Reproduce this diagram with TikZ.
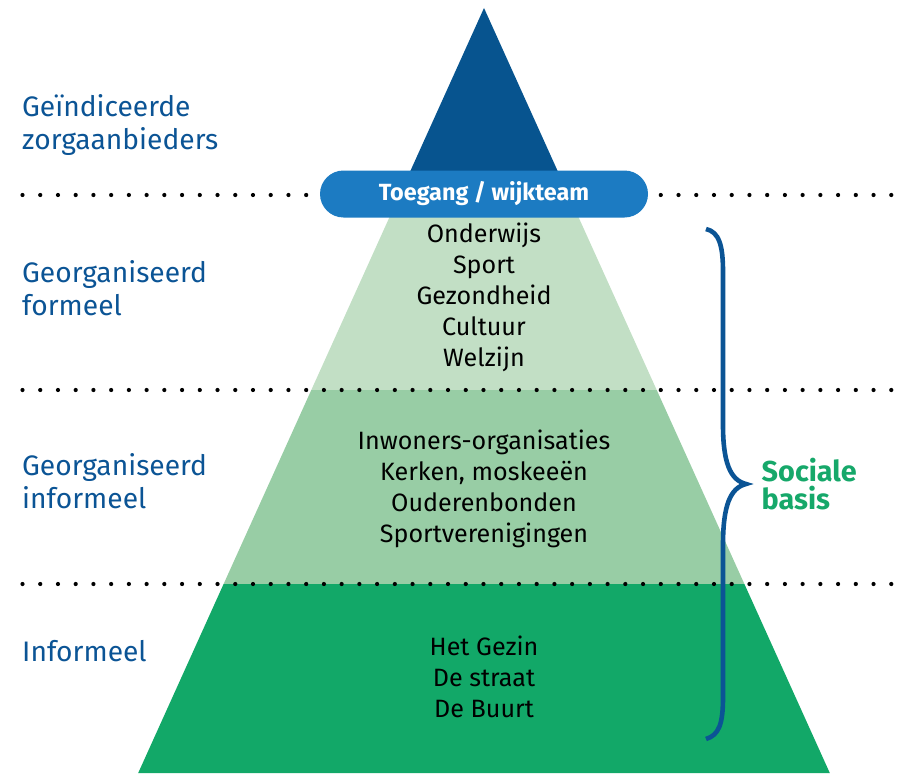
\documentclass[tikz,border=0pt]{standalone}
\usepackage{fontspec}
\setmainfont{Fira Sans}
\definecolor{topblue}{HTML}{07548F}
\definecolor{pillblue}{HTML}{1C7BC2}
\definecolor{lightgreen}{HTML}{C2DFC5}
\definecolor{midgreen}{HTML}{98CDA5}
\definecolor{darkgreen}{HTML}{12A868}
\definecolor{labelblue}{HTML}{0B5495}
\definecolor{socgreen}{HTML}{16A86A}
\tikzset{
  inner/.style={align=center,inner sep=0pt,text=black,font=\fontsize{25.1}{31}\selectfont},
  sidelabel/.style={anchor=west,align=left,inner sep=0pt,text=labelblue,font=\fontsize{28.2}{33}\selectfont},
  pill/.style={rounded corners=23.5pt,fill=pillblue,minimum width=328pt,minimum height=47pt,inner sep=0pt,text=white,font=\bfseries\fontsize{23.4}{26}\selectfont},
  dotrow/.style={fill=black},
  bracestyle/.style={draw=labelblue,line width=4.6pt}
}
\begin{document}
\begin{tikzpicture}[x=1pt,y=-1pt]
\useasboundingbox (0,0) rectangle (901,773);
% pyramid bands
\fill[topblue] (484,8) -- (568.5,195) -- (399.5,195) -- cycle;
\fill[lightgreen] (399.5,195) -- (568.5,195) -- (656.7,390) -- (311.3,390) -- cycle;
\fill[midgreen] (311.3,390) -- (656.7,390) -- (744.4,584) -- (223.6,584) -- cycle;
\fill[darkgreen] (223.6,584) -- (744.4,584) -- (829.8,773) -- (138.2,773) -- cycle;
% dotted separators
\foreach \yy in {195,390,584}{
  \foreach \i in {0,...,49}{
    \fill[dotrow] ({22.5+17.73*\i},\yy) circle (2.1);
  }
}
% access pill
\node[pill] (pill) at (484,194) {Toegang / wijkteam};
% inner texts
\node[inner] (formeel) at (484,297.5) {Onderwijs\\Sport\\Gezondheid\\Cultuur\\Welzijn};
\node[inner] (informeelin) at (484,489) {Inwoners-organisaties\\Kerken, moskeeën\\Ouderenbonden\\Sportverenigingen};
\node[inner] (gezin) at (484,677) {Het Gezin\\De straat\\De Buurt};
% side labels
\node[sidelabel] (lab1) at (22,125) {Geïndiceerde\\zorgaanbieders};
\node[sidelabel] (lab2) at (22,288) {Georganiseerd\\formeel};
\node[sidelabel] (lab3) at (22,481) {Georganiseerd\\informeel};
\node[sidelabel] (lab4) at (22,651) {Informeel};
% brace
\draw[bracestyle] (706,229) .. controls (719,232) and (723,245) .. (723,272)
  -- (723,425) .. controls (723,462) and (730,480) .. (746,484)
  .. controls (730,488) and (723,506) .. (723,545)
  -- (723,697) .. controls (723,724) and (719,735) .. (706,739);
\coordinate (tip) at (746,484);
\node[anchor=west,align=left,inner sep=0pt,text=socgreen,font=\bfseries\fontsize{28.8}{28}\selectfont] (soc) at ([xshift=15.5pt,yshift=0pt]tip) {Sociale\\basis};
\end{tikzpicture}
\end{document}
